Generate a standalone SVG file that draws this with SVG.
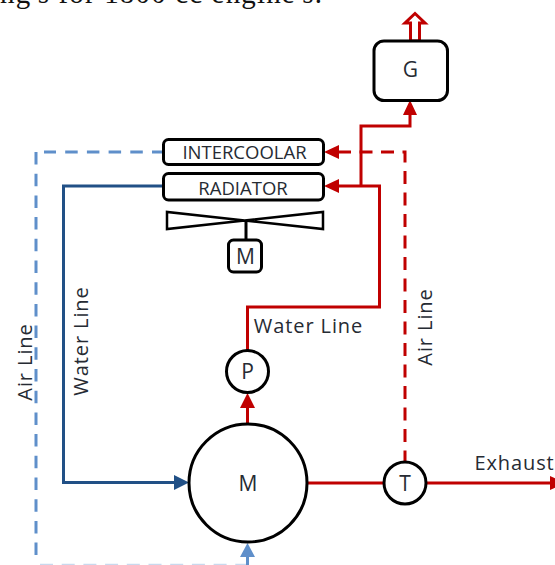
<svg xmlns="http://www.w3.org/2000/svg" width="555" height="565" viewBox="0 0 555 565">
<style>
text{font-family:"Open Sans","Noto Sans",sans-serif;fill:#262b33;font-size:21px;text-anchor:middle}
.lab{font-size:20px;letter-spacing:.9px}
.box{font-size:18.500px}
.nl{fill:#fff;stroke:#000;stroke-width:3}
.r{fill:none;stroke:#c00000;stroke-width:3}
.rd{fill:none;stroke:#c00000;stroke-width:3;stroke-dasharray:13 8.500}
.n{fill:none;stroke:#215086;stroke-width:3}
.b{fill:none;stroke:#5f8fca;stroke-width:3;stroke-dasharray:12.500 9.200}
.hr{fill:#c00000}.hn{fill:#215086}.hb{fill:#5f8fca}
</style>
<rect width="555" height="565" fill="#fff"/>
<text x="0" y="3" style="font-family:'Liberation Serif',serif;font-size:29px;text-anchor:start;fill:#111;letter-spacing:1.150px">ng's for 1800 cc engine's.</text>
<g id="connectors">
<path class="r" d="M361 186V126H410V114"/>
<polygon class="hr" points="410,100 403,115 417,115"/>
<path d="M410.500 41V23H405L415 13.500L425 23H419.500V41Z" fill="#fff" stroke="#c00000" stroke-width="3"/>
<path class="r" d="M338 186H379.500V307H247.500V350"/>
<polygon class="hr" points="324,186 339,179 339,193"/>
<path class="rd" d="M338 152H405V462"/>
<polygon class="hr" points="324,152 339,145 339,159"/>
<path class="r" d="M247.500 424V406"/>
<polygon class="hr" points="247.500,393 240,408 255,408"/>
<path class="r" d="M307 483H384M426 483H552"/>
<polygon class="hr" points="565,483 550,476 550,490"/>
<path class="n" d="M163 186H63.500V482.500H176"/>
<polygon class="hn" points="189,482.500 174,475 174,490"/>
<path class="b" d="M163 152H44" stroke-dashoffset="1.500"/>
<path class="b" d="M36 152V564"/>
<path d="M40 564.500H247" fill="none" stroke="#c9d9ee" stroke-width="1.500" stroke-dasharray="13 8.700"/>
<path d="M247.500 565V554" stroke="#5f8fca" stroke-width="3"/>
<polygon class="hb" points="247.500,543 240,557 255,557"/>
</g>
<g id="g"><rect class="nl" x="374" y="41" width="73.500" height="59.500" rx="10"/><text x="410.500" y="77">G</text></g>
<g id="intercooler"><rect class="nl" x="163.500" y="139.500" width="160" height="25" rx="5"/><text class="box" x="244.500" y="159">INTERCOOLAR</text></g>
<g id="radiator"><rect class="nl" x="163.500" y="173.500" width="160" height="26.500" rx="5"/><text class="box" x="243" y="194.500">RADIATOR</text></g>
<g id="fan">
<path fill="#fff" stroke="#000" stroke-width="2.500" d="M167 212V229L323 212V229Z"/>
<path d="M246 220V240" stroke="#000" stroke-width="3"/>
</g>
<g id="fan-motor"><rect class="nl" x="228.500" y="240" width="33" height="32" rx="5"/><text x="245.500" y="264">M</text></g>
<g id="pump"><circle class="nl" cx="247.500" cy="371.500" r="21"/><text x="247.500" y="379">P</text></g>
<g id="engine"><circle class="nl" cx="248" cy="483" r="59"/><text x="248" y="491">M</text></g>
<g id="turbine"><circle class="nl" cx="405" cy="483" r="21"/><text x="405" y="491">T</text></g>
<text class="lab" x="308.500" y="333">Water Line</text>
<text class="lab" x="514.500" y="470">Exhaust</text>
<text class="lab" transform="translate(32 362) rotate(-90)">Air Line</text>
<text class="lab" transform="translate(88 341) rotate(-90)">Water Line</text>
<text class="lab" transform="translate(432 327) rotate(-90)">Air Line</text>
</svg>
